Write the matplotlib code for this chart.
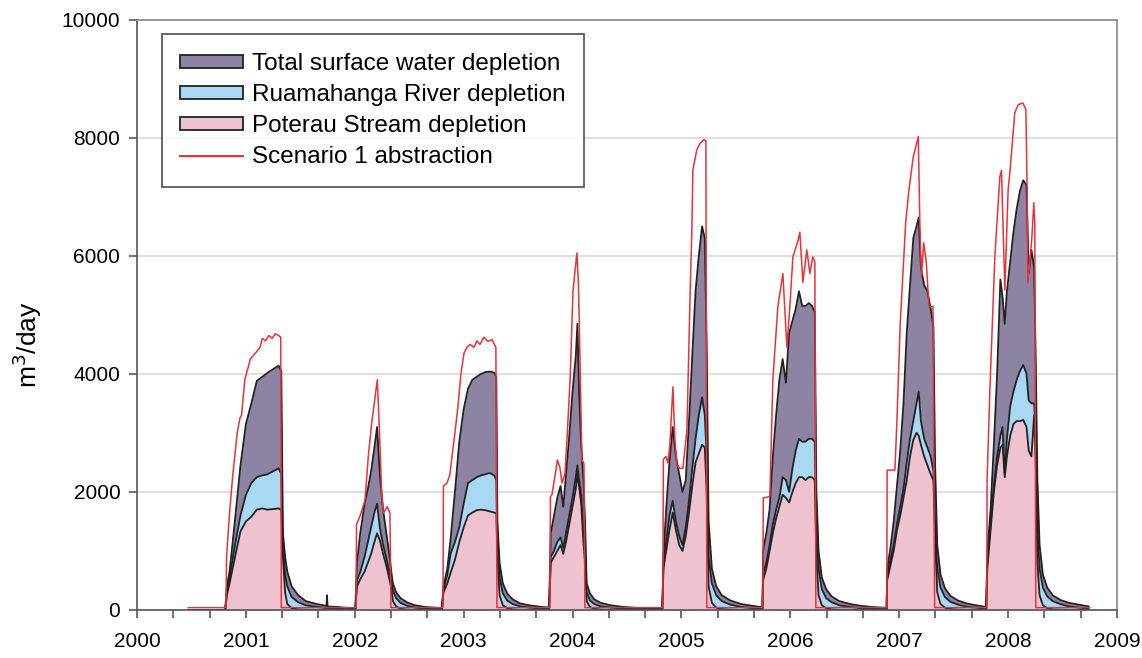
import numpy as np
import matplotlib
matplotlib.use("Agg")
import matplotlib.pyplot as plt
from matplotlib.patches import Patch
from matplotlib.lines import Line2D

plt.rcParams['font.family'] = ['Liberation Sans', 'DejaVu Sans']

# depletion series (decimal year, m3/day)
year = [2000.47, 2000.81, 2000.825, 2000.85, 2000.90, 2000.95, 2001.00, 2001.05, 2001.10, 2001.15,
        2001.20, 2001.25, 2001.30, 2001.325, 2001.34, 2001.36, 2001.38, 2001.42, 2001.48, 2001.55,
        2001.65, 2001.74, 2001.745, 2001.75, 2001.85, 2001.95, 2002.005,
        2002.02, 2002.05, 2002.09, 2002.12, 2002.15, 2002.18, 2002.205, 2002.23, 2002.26, 2002.29,
        2002.32, 2002.335, 2002.35, 2002.38, 2002.42, 2002.48, 2002.55, 2002.65, 2002.80,
        2002.815, 2002.85, 2002.88, 2002.92, 2002.96, 2003.00, 2003.04, 2003.08, 2003.12, 2003.16,
        2003.20, 2003.24, 2003.28, 2003.30, 2003.31, 2003.33, 2003.36, 2003.40, 2003.45, 2003.52,
        2003.60, 2003.70, 2003.785,
        2003.80, 2003.83, 2003.86, 2003.89, 2003.915, 2003.94, 2003.97, 2004.00, 2004.03, 2004.045,
        2004.06, 2004.08, 2004.10, 2004.115, 2004.13, 2004.16, 2004.20, 2004.26, 2004.35, 2004.45,
        2004.55, 2004.65, 2004.825,
        2004.835, 2004.86, 2004.89, 2004.92, 2004.95, 2004.98, 2005.01, 2005.04, 2005.07, 2005.10,
        2005.13, 2005.16, 2005.19, 2005.215, 2005.232, 2005.25, 2005.28, 2005.32, 2005.37, 2005.45,
        2005.55, 2005.65, 2005.745,
        2005.75, 2005.78, 2005.81, 2005.84, 2005.87, 2005.90, 2005.93, 2005.96, 2005.99, 2006.02,
        2006.05, 2006.08, 2006.11, 2006.14, 2006.17, 2006.20, 2006.225, 2006.24, 2006.26, 2006.29,
        2006.33, 2006.38, 2006.45, 2006.55, 2006.65, 2006.75, 2006.885,
        2006.89, 2006.92, 2006.95, 2006.98, 2007.01, 2007.04, 2007.07, 2007.10, 2007.13, 2007.16,
        2007.18, 2007.20, 2007.23, 2007.26, 2007.29, 2007.315, 2007.33, 2007.35, 2007.38, 2007.42,
        2007.47, 2007.54, 2007.62, 2007.72, 2007.80,
        2007.81, 2007.84, 2007.87, 2007.90, 2007.93, 2007.95, 2007.97, 2007.99, 2008.02, 2008.05,
        2008.08, 2008.11, 2008.14, 2008.17, 2008.19, 2008.215, 2008.24, 2008.255, 2008.27, 2008.29,
        2008.32, 2008.36, 2008.41, 2008.48, 2008.56, 2008.65, 2008.74]

poterau = [0, 0, 250, 450, 900, 1330, 1500, 1580, 1700, 1720,
           1700, 1710, 1720, 1700, 900, 300, 100, 30, 10, 5,
           0, 0, 0, 0, 0, 0, 0,
           400, 520, 650, 800, 950, 1150, 1300, 1180, 950, 750,
           500, 380, 150, 60, 20, 5, 0, 0, 0,
           300, 450, 630, 850, 1150, 1400, 1600, 1650, 1690, 1700,
           1690, 1670, 1650, 1640, 900, 250, 80, 30, 10, 0,
           0, 0, 0,
           800, 900, 1000, 1100, 950, 1150, 1450, 1750, 2050, 2300,
           2100, 1800, 1150, 800, 150, 50, 20, 5, 0, 0,
           0, 0, 0,
           700, 1000, 1350, 1650, 1350, 1100, 1000, 1250, 1650, 2100,
           2500, 2650, 2800, 2750, 2000, 400, 120, 40, 15, 5,
           0, 0, 0,
           500, 700, 1000, 1300, 1550, 1750, 1950, 1900, 1820, 2000,
           2150, 2250, 2250, 2200, 2250, 2250, 2200, 900, 250, 80,
           30, 10, 0, 0, 0, 0, 0,
           500, 750, 1000, 1350, 1600, 1900, 2200, 2600, 2880, 3000,
           2950, 2800, 2600, 2450, 2300, 2200, 1200, 300, 100, 40,
           15, 5, 0, 0, 0,
           700, 1350, 2000, 2450, 2750, 2800, 2250, 2600, 2950, 3150,
           3200, 3200, 3220, 3100, 2700, 2600, 3300, 2500, 800, 250,
           80, 30, 10, 5, 0, 0, 0]

ruamahanga = [0, 0, 50, 100, 200, 270, 450, 570, 550, 560,
              600, 640, 680, 600, 200, 300, 300, 190, 120, 75,
              50, 30, 30, 30, 20, 10, 8,
              100, 120, 250, 350, 450, 500, 500, 220, 150, 120,
              120, 120, 180, 140, 100, 65, 40, 20, 10,
              50, 150, 320, 300, 250, 400, 550, 550, 560, 580,
              610, 650, 630, 560, 300, 300, 200, 130, 90, 60,
              40, 25, 15,
              100, 100, 150, 130, 100, 150, 150, 150, 200, 150,
              100, 150, 150, 150, 150, 110, 80, 55, 40, 25,
              15, 10, 8,
              100, 150, 250, 200, 150, 150, 100, 150, 200, 300,
              400, 650, 800, 550, 600, 500, 330, 210, 135, 85,
              50, 30, 20,
              100, 100, 100, 150, 150, 150, 300, 300, 180, 400,
              550, 650, 600, 650, 650, 650, 650, 500, 450, 270,
              170, 120, 80, 50, 30, 20, 12,
              100, 100, 100, 100, 150, 150, 300, 300, 320, 500,
              750, 400, 300, 300, 300, 150, 300, 400, 280, 180,
              125, 85, 55, 35, 22,
              100, 100, 100, 150, 200, 300, 50, 300, 500, 550,
              700, 850, 930, 900, 850, 900, 200, 400, 600, 450,
              300, 200, 140, 95, 60, 40, 25]

total = [0, 0, 400, 650, 1530, 2450, 3150, 3500, 3880, 3950,
         4020, 4080, 4140, 4050, 1300, 900, 650, 400, 250, 150,
         100, 70, 250, 60, 50, 30, 25,
         800, 1300, 1800, 2050, 2350, 2750, 3100, 2300, 1700, 1300,
         900, 650, 450, 300, 200, 130, 80, 50, 30,
         400, 700, 1200, 2000, 2850, 3400, 3750, 3900, 3950, 4000,
         4030, 4040, 4020, 3950, 1500, 800, 450, 280, 180, 110,
         80, 55, 40,
         1300, 1600, 1900, 2100, 1750, 2300, 2950, 3700, 4300, 4850,
         3700, 2800, 2200, 1500, 450, 280, 180, 120, 80, 55,
         40, 30, 25,
         900, 1700, 2500, 3100, 2600, 2300, 2000, 2200, 3200, 4300,
         5400, 6000, 6500, 6300, 4500, 1500, 700, 400, 250, 160,
         100, 70, 45,
         1000, 1300, 1700, 2600, 3300, 3900, 4250, 3850, 4700, 4900,
         5100, 5400, 5150, 5150, 5200, 5150, 5050, 2000, 1000, 550,
         350, 230, 150, 100, 70, 50, 35,
         700, 1050, 1500, 2100, 2700, 3500, 4700, 5500, 6300, 6500,
         6650, 5800, 5500, 5400, 5100, 4800, 2500, 1100, 600, 370,
         240, 160, 110, 75, 50,
         1000, 1700, 2800, 4000, 5600, 5300, 4850, 5400, 5900, 6400,
         6800, 7100, 7280, 7200, 5700, 6100, 5800, 4200, 2200, 1100,
         600, 380, 250, 170, 120, 90, 60]

# scenario 1 abstraction
abs_year = [2000.47, 2000.817, 2000.822, 2000.85, 2000.88, 2000.92, 2000.945, 2000.96, 2000.99, 2001.04,
            2001.10, 2001.13, 2001.15, 2001.18, 2001.21, 2001.24, 2001.27, 2001.30, 2001.32, 2001.325,
            2002.012, 2002.016, 2002.05, 2002.094, 2002.124, 2002.155, 2002.207, 2002.225, 2002.247, 2002.262,
            2002.298, 2002.323, 2002.332,
            2002.810, 2002.814, 2002.847, 2002.874, 2002.893, 2002.920, 2002.948, 2002.975, 2003.003, 2003.030,
            2003.058, 2003.095, 2003.122, 2003.150, 2003.186, 2003.223, 2003.260, 2003.296, 2003.306,
            2003.792, 2003.797, 2003.811, 2003.85, 2003.86, 2003.884, 2003.903, 2003.93, 2003.949, 2003.98,
            2004.004, 2004.040, 2004.055, 2004.068, 2004.086, 2004.105, 2004.114,
            2004.830, 2004.834, 2004.858, 2004.876, 2004.894, 2004.922, 2004.940, 2004.959, 2004.986, 2005.014,
            2005.051, 2005.078, 2005.096, 2005.106, 2005.142, 2005.170, 2005.206, 2005.225, 2005.234,
            2005.748, 2005.752, 2005.813, 2005.840, 2005.886, 2005.932, 2005.969, 2005.996, 2006.024, 2006.070,
            2006.088, 2006.116, 2006.152, 2006.180, 2006.207, 2006.226, 2006.235,
            2006.887, 2006.890, 2006.961, 2006.979, 2007.01, 2007.06, 2007.09, 2007.13, 2007.176, 2007.19,
            2007.205, 2007.226, 2007.250, 2007.274, 2007.311, 2007.326,
            2007.805, 2007.808, 2007.833, 2007.879, 2007.925, 2007.94, 2007.971, 2008.001, 2008.017, 2008.062,
            2008.093, 2008.136, 2008.164, 2008.176, 2008.182, 2008.218, 2008.237, 2008.246, 2008.255, 2008.75]

abstraction = [40, 40, 900, 1650, 2300, 3000, 3250, 3300, 3900, 4250,
               4380, 4450, 4600, 4560, 4650, 4600, 4680, 4650, 4620, 40,
               40, 1450, 1600, 1860, 2600, 3160, 3900, 3100, 1980, 1640,
               1750, 1640, 40,
               40, 2100, 2150, 2300, 2600, 3000, 3450, 4000, 4350, 4450,
               4500, 4450, 4560, 4500, 4620, 4550, 4580, 4450, 40,
               40, 1920, 1950, 2400, 2540, 2420, 2150, 2300, 2880, 4000,
               5400, 6050, 5500, 4300, 2540, 2480, 40,
               40, 2550, 2600, 2490, 2800, 3780, 2900, 2460, 2400, 2400,
               3050, 5200, 6440, 7460, 7800, 7900, 7970, 7950, 40,
               40, 1900, 1920, 3900, 5140, 5700, 4450, 5140, 5980, 6250,
               6400, 5550, 6100, 5700, 5980, 5900, 40,
               40, 2370, 2370, 3170, 4860, 6560, 7120, 7680, 8020, 6560,
               5650, 6220, 5880, 5140, 5140, 40,
               40, 2200, 3700, 5980, 7340, 7450, 5420, 7120, 7410, 8420,
               8560, 8590, 8480, 7120, 5540, 6270, 6900, 6560, 40, 40]

c_total = '#8d83a3'
c_river = '#a9d8f3'
c_stream = '#eec3cf'
c_red = '#e8323c'

x = np.array(year)
p = np.array(poterau)
blue_top = p + np.array(ruamahanga)
t = np.array(total)

fig = plt.figure(figsize=(11.42, 6.58), dpi=100)
ax = fig.add_axes([0.120, 0.073, 0.858, 0.897])

ax.fill_between(x, blue_top, t, color=c_total, lw=0)
ax.fill_between(x, p, blue_top, color=c_river, lw=0)
ax.fill_between(x, 0, p, color=c_stream, lw=0)
ax.plot(x, t, color='#222222', lw=1.3)
ax.plot(x, blue_top, color='#222222', lw=1.3)
ax.plot(x, p, color='#222222', lw=1.3)
ax.plot(abs_year, abstraction, color=c_red, lw=1.1)

ax.set_xlim(2000, 2009)
ax.set_ylim(0, 10000)
ax.set_yticks(range(0, 10001, 2000))
ax.yaxis.grid(True, color='#d9d9d9', lw=1.2)
ax.set_axisbelow(True)

ticks = np.arange(0, 27 + 1) / 3 + 2000
ax.set_xticks(ticks)
ax.set_xticklabels([str(int(round(v))) if abs(v - round(v)) < 1e-6 else '' for v in ticks])
ax.tick_params(axis='both', direction='out', length=6, width=1.2, color='#555555',
               labelsize=15, pad=10)
ax.tick_params(axis='y', pad=6)
for s in ax.spines.values():
    s.set_color('#888888')
    s.set_linewidth(1.2)
ax.spines['left'].set_color('#555555')
ax.spines['bottom'].set_color('#555555')

ax.set_ylabel('m$^3$/day', fontsize=19, labelpad=10)
ax.yaxis.set_label_coords(-0.095, 0.45)

handles = [Patch(facecolor=c_total, edgecolor='#222222', lw=1.3),
           Patch(facecolor=c_river, edgecolor='#222222', lw=1.3),
           Patch(facecolor=c_stream, edgecolor='#222222', lw=1.3),
           Line2D([], [], color=c_red, lw=1.5)]
labels = ['Total surface water depletion', 'Ruamahanga River depletion',
          'Poterau Stream depletion', 'Scenario 1 abstraction']
leg = ax.legend(handles, labels, loc='upper left', bbox_to_anchor=(0.0255, 0.975),
                fontsize=17.5, frameon=True, fancybox=False, edgecolor='#333333',
                handlelength=2.6, handleheight=0.45, labelspacing=0.38, borderpad=0.75,
                handletextpad=0.35, borderaxespad=0)
leg.get_frame().set_linewidth(1.3)

fig.savefig('out.png', dpi=100)
